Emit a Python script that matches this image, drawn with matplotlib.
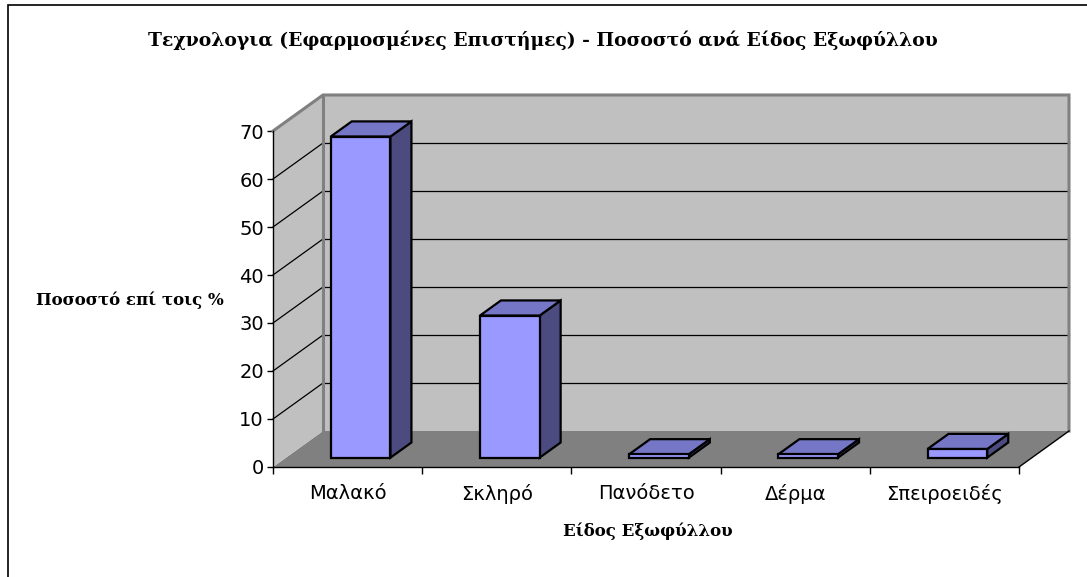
import matplotlib
matplotlib.use("Agg")
import matplotlib.pyplot as plt
from matplotlib.patches import Polygon, Rectangle

categories = ["Μαλακό", "Σκληρό", "Πανόδετο", "Δέρμα", "Σπειροειδές"]
values = [66.9, 29.6, 0.7, 0.7, 1.8]
yticks = [0, 10, 20, 30, 40, 50, 60, 70]
title = "Τεχνολογια (Εφαρμοσμένες Επιστήμες) - Ποσοστό ανά Είδος Εξωφύλλου"
ylabel = "Ποσοστό επί τοις %"
xlabel = "Είδος Εξωφύλλου"

W, H = 1087, 577
fig = plt.figure(figsize=(W / 100, H / 100), dpi=100)
fig.patch.set_facecolor("white")

# frame
fig.patches.append(Rectangle((8 / W, -0.1), 1.2, (H - 5) / H + 0.1, transform=fig.transFigure,
                             fill=False, edgecolor="black", linewidth=1.2))

ax = fig.add_axes([273 / W, 110 / H, 746 / W, 336 / H])
n = len(categories)
ymax = 70
ax.set_xlim(0, n)
ax.set_ylim(0, ymax)
ax.patch.set_visible(False)

DX = 50 / 746 * n
DY = 36 / 336 * ymax


def P(x, y, d):
    return (x + d * DX, y + d * DY)


def poly(pts, fc, ec="none", lw=0, z=1):
    p = Polygon(pts, closed=True, facecolor=fc, edgecolor=ec, linewidth=lw, zorder=z,
                clip_on=False, joinstyle="miter")
    ax.add_patch(p)


# floor
poly([P(0, 0, 0), P(n, 0, 0), P(n, 0, 1), P(0, 0, 1)], "#808080", z=1)
# back wall
poly([P(0, 0, 1), P(n, 0, 1), P(n, ymax, 1), P(0, ymax, 1)], "#C0C0C0", z=1)
# side wall
poly([P(0, 0, 0), P(0, 0, 1), P(0, ymax, 1), P(0, ymax, 0)], "#C0C0C0", z=1)

# gridlines
for v in yticks[1:-1]:
    a, b = P(0, v, 1), P(n, v, 1)
    ax.plot([a[0], b[0]], [a[1], b[1]], color="black", lw=0.9, zorder=2, clip_on=False)
    c, d = P(0, v, 0), P(0, v, 1)
    ax.plot([c[0], d[0]], [c[1], d[1]], color="black", lw=0.9, zorder=2, clip_on=False)

# wall borders (gray)
pts = [P(0, ymax, 0), P(0, ymax, 1), P(n, ymax, 1), P(n, 0, 1)]
ax.plot([p[0] for p in pts], [p[1] for p in pts], color="#808080", lw=2.2, zorder=2,
        clip_on=False, solid_joinstyle="miter")
pts = [P(0, 0, 1), P(0, ymax, 1)]
ax.plot([p[0] for p in pts], [p[1] for p in pts], color="#808080", lw=2.2, zorder=2,
        clip_on=False)
# floor right edge
pts = [P(n, 0, 0), P(n, 0, 1)]
ax.plot([p[0] for p in pts], [p[1] for p in pts], color="black", lw=1.0, zorder=2, clip_on=False)

# bars
bw = 0.4
d0, d1 = 0.26, 0.68
for i, v in enumerate(values):
    x0 = i + 0.5 - bw / 2
    x1 = i + 0.5 + bw / 2
    poly([P(x1, 0, d0), P(x1, 0, d1), P(x1, v, d1), P(x1, v, d0)], "#4B4B7F", "black", 1.6, 4)
    poly([P(x0, v, d0), P(x1, v, d0), P(x1, v, d1), P(x0, v, d1)], "#7676C6", "black", 1.6, 4)
    poly([P(x0, 0, d0), P(x1, 0, d0), P(x1, v, d0), P(x0, v, d0)], "#9999FF", "black", 1.6, 5)

# axes
for s in ["top", "right"]:
    ax.spines[s].set_visible(False)
ax.spines["left"].set_color("black")
ax.spines["bottom"].set_color("black")
ax.spines["left"].set_linewidth(1.0)
ax.spines["bottom"].set_linewidth(1.0)
ax.spines["left"].set_zorder(6)
ax.spines["bottom"].set_zorder(6)

ax.set_yticks(yticks)
ax.set_yticklabels([str(t) for t in yticks])
ax.set_xticks(range(n + 1))
ax.set_xticklabels([""] * (n + 1))
ax.set_xticks([i + 0.5 for i in range(n)], minor=True)
ax.set_xticklabels(categories, minor=True)
ax.tick_params(axis="y", direction="out", length=4.5, width=1, labelsize=14, pad=2)
ax.tick_params(axis="x", which="major", direction="out", length=5, width=1)
ax.tick_params(axis="x", which="minor", length=0, labelsize=14, pad=12.5)
for lab in ax.get_xticklabels(minor=True) + ax.get_yticklabels():
    lab.set_fontfamily("DejaVu Sans")

fig.text(543 / W, 1 - 40 / H, title, ha="center", va="center", fontsize=13.5,
         fontweight="bold", family="DejaVu Serif")
fig.text(130 / W, 1 - 300 / H, ylabel, ha="center", va="center", fontsize=12,
         fontweight="bold", family="DejaVu Serif")
fig.text(648 / W, 1 - 531 / H, xlabel, ha="center", va="center", fontsize=12,
         fontweight="bold", family="DejaVu Serif")

fig.savefig("out.png", dpi=100)
